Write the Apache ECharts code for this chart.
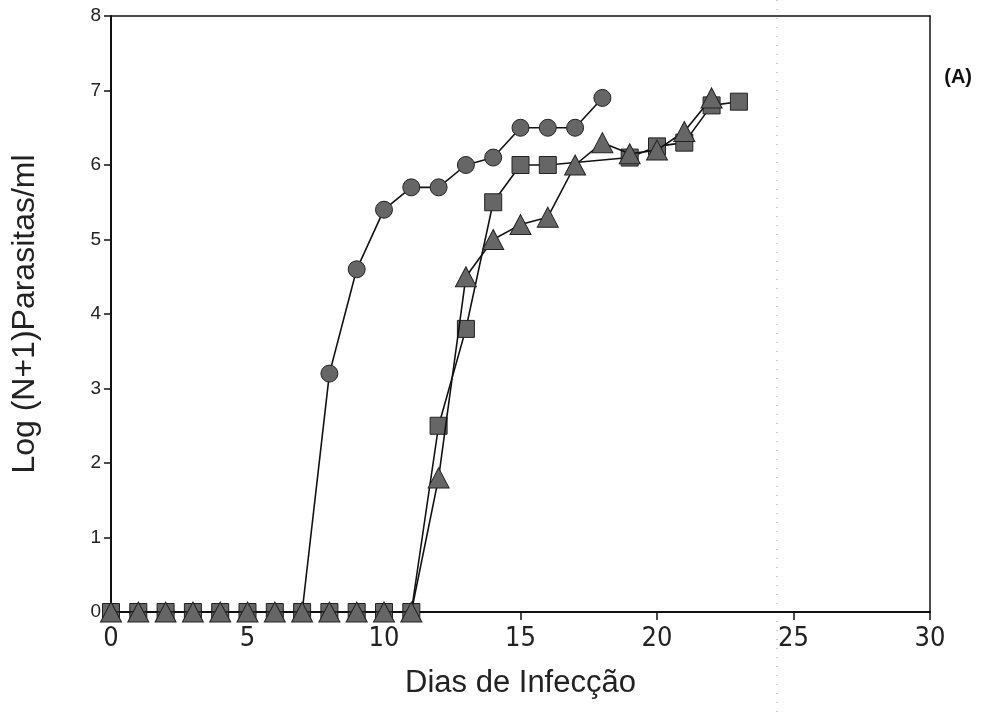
<!DOCTYPE html>
<html>
<head>
<meta charset="utf-8">
<title>Log (N+1) Parasitas/ml</title>
<script src="https://cdn.jsdelivr.net/npm/echarts@6/dist/echarts.min.js"></script>
<style>
    html, body { margin: 0; padding: 0; background: #fff; }
    #chart { width: 987px; height: 713px; }
</style>
</head>
<body>
<div id="chart"></div>
<script>
// dados (dia, log(N+1))
var circleData = [
    [0, 0], [1, 0], [2, 0], [3, 0], [4, 0], [5, 0], [6, 0], [7, 0],
    [8, 3.2], [9, 4.6], [10, 5.4], [11, 5.7], [12, 5.7], [13, 6.0],
    [14, 6.1], [15, 6.5], [16, 6.5], [17, 6.5], [18, 6.9]
];
var triangleData = [
    [0, 0], [1, 0], [2, 0], [3, 0], [4, 0], [5, 0], [6, 0], [7, 0],
    [8, 0], [9, 0], [10, 0], [11, 0],
    [12, 1.8], [13, 4.5], [14, 5.0], [15, 5.2], [16, 5.3], [17, 6.0],
    [18, 6.3], [19, 6.15], [20, 6.2], [21, 6.45], [22, 6.9]
];
var squareData = [
    [0, 0], [1, 0], [2, 0], [3, 0], [4, 0], [5, 0], [6, 0], [7, 0],
    [8, 0], [9, 0], [10, 0], [11, 0],
    [12, 2.5], [13, 3.8], [14, 5.5], [15, 6.0], [16, 6.0],
    [19, 6.1], [20, 6.25], [21, 6.3], [22, 6.8], [23, 6.85]
];
var xTicks = [0, 30, 5];   // min, max, intervalo
var yTicks = [0, 8, 1];

var chart = echarts.init(document.getElementById('chart'), null, { renderer: 'canvas' });

var markerStyle = { color: '#666', borderColor: '#222', borderWidth: 1 };
var lineStyle = { color: '#111', width: 1.6 };

function makeSeries(name, data, symbol, size, z) {
    return {
        name: name,
        type: 'line',
        data: data,
        symbol: symbol,
        symbolSize: size,
        showAllSymbol: true,
        lineStyle: lineStyle,
        itemStyle: markerStyle,
        z: z,
        animation: false
    };
}

var option = {
    animation: false,
    title: {
        text: '(A)',
        right: 10,
        top: 62,
        textStyle: { fontFamily: 'Liberation Sans', fontWeight: 'bold', fontSize: 20, color: '#111' }
    },
    grid: { left: 111, right: 57, top: 16, bottom: 101 },
    xAxis: [{
        type: 'value',
        min: xTicks[0], max: xTicks[1], interval: xTicks[2],
        name: 'Dias de Infecção',
        nameLocation: 'middle',
        nameGap: 56,
        nameTextStyle: { fontFamily: 'Liberation Sans', fontSize: 31, color: '#222' },
        axisLine: { onZero: false, lineStyle: { color: '#111', width: 2 } },
        axisTick: { inside: false, length: 8, lineStyle: { color: '#111', width: 1.5 } },
        axisLabel: { fontFamily: 'DejaVu Sans Condensed, Liberation Sans', fontSize: 27, color: '#222', margin: 13 },
        splitLine: { show: false }
    }, {
        type: 'value',
        position: 'top',
        min: xTicks[0], max: xTicks[1],
        axisLine: { show: true, onZero: false, lineStyle: { color: '#111', width: 1.5 } },
        axisTick: { show: false },
        axisLabel: { show: false },
        splitLine: { show: false }
    }],
    yAxis: [{
        type: 'value',
        min: yTicks[0], max: yTicks[1], interval: yTicks[2],
        name: 'Log (N+1)Parasitas/ml',
        nameLocation: 'middle',
        nameGap: 70,
        nameTextStyle: { fontFamily: 'Liberation Sans', fontSize: 32, color: '#222' },
        axisLine: { show: true, onZero: false, lineStyle: { color: '#111', width: 2 } },
        axisTick: { show: true, inside: false, length: 7, lineStyle: { color: '#111', width: 1.5 } },
        axisLabel: { fontFamily: 'Liberation Sans', fontSize: 19, color: '#222', margin: 10 },
        splitLine: { show: false }
    }, {
        type: 'value',
        position: 'right',
        min: yTicks[0], max: yTicks[1], interval: yTicks[2],
        axisLine: { show: true, onZero: false, lineStyle: { color: '#111', width: 1.5 } },
        axisTick: { show: false },
        axisLabel: { show: false },
        splitLine: { show: false }
    }],
    // linha pontilhada da digitalização
    graphic: [{
        type: 'line',
        shape: { x1: 777, y1: 0, x2: 777, y2: 713 },
        style: { stroke: '#999', lineWidth: 1, lineDash: [1, 8] },
        silent: true,
        z: 0
    }],
    series: [
        makeSeries('círculo', circleData, 'circle', 17, 2),
        makeSeries('quadrado', squareData, 'rect', 17, 3),
        makeSeries('triângulo', triangleData, 'triangle', [21, 20], 4)
    ]
};

chart.setOption(option);
</script>
</body>
</html>
